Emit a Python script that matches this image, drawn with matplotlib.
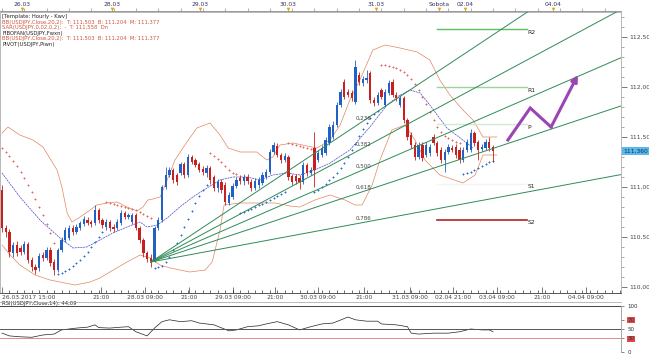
import matplotlib.pyplot as plt
from matplotlib.lines import Line2D
from matplotlib.ticker import MultipleLocator, FuncFormatter

# hourly USD/JPY candles (one per hour, weekend hours skipped)
opens = [110.97, 110.59, 110.55, 110.34, 110.42, 110.39, 110.35, 110.43, 110.27, 110.20,
         110.19, 110.32, 110.29, 110.37, 110.25, 110.17, 110.37, 110.47, 110.49, 110.59,
         110.55, 110.59, 110.63, 110.67, 110.65, 110.64, 110.77, 110.67, 110.60, 110.65,
         110.60, 110.59, 110.64, 110.74, 110.70, 110.65, 110.72, 110.59, 110.47, 110.34,
         110.29, 110.27, 110.59, 110.67, 111.00, 111.12, 111.17, 111.12, 111.14, 111.23,
         111.12, 111.30, 111.27, 111.23, 111.18, 111.14, 111.19, 111.10, 110.99, 111.05,
         111.02, 110.84, 110.90, 111.01, 111.09, 111.06, 111.10, 111.05, 110.99, 111.02,
         111.04, 111.10, 111.15, 111.35, 111.41, 111.32, 111.27, 111.30, 111.11, 111.11,
         111.09, 111.05, 111.22, 111.14, 111.39, 111.27, 111.32, 111.34, 111.44, 111.50,
         111.62, 111.82, 112.05, 111.95, 111.94, 111.85, 112.12, 112.04, 112.07, 112.14,
         111.87, 111.84, 111.97, 111.82, 111.94, 112.05, 111.92, 111.82, 111.89, 111.67,
         111.52, 111.42, 111.30, 111.42, 111.32, 111.34, 111.50, 111.44, 111.37, 111.27,
         111.35, 111.39, 111.40, 111.37, 111.27, 111.37, 111.37, 111.54, 111.45, 111.38,
         111.39, 111.45, 111.40]
closes = [110.59, 110.55, 110.35, 110.42, 110.34, 110.35, 110.43, 110.27, 110.20, 110.17,
          110.31, 110.29, 110.37, 110.24, 110.17, 110.37, 110.47, 110.57, 110.59, 110.55,
          110.60, 110.64, 110.68, 110.64, 110.63, 110.77, 110.67, 110.62, 110.65, 110.59,
          110.58, 110.65, 110.74, 110.70, 110.71, 110.72, 110.59, 110.47, 110.34, 110.28,
          110.26, 110.59, 110.67, 111.00, 111.12, 111.17, 111.07, 111.05, 111.23, 111.12,
          111.30, 111.25, 111.22, 111.17, 111.15, 111.19, 111.07, 110.99, 111.05, 110.97,
          110.85, 110.92, 111.01, 111.07, 111.06, 111.10, 111.06, 110.99, 111.06, 111.07,
          111.12, 111.15, 111.35, 111.42, 111.32, 111.27, 111.31, 111.10, 111.05, 111.06,
          111.05, 111.22, 111.14, 111.17, 111.17, 111.34, 111.39, 111.47, 111.60, 111.62,
          111.82, 111.95, 111.90, 111.92, 111.89, 112.20, 112.05, 112.08, 112.09, 111.87,
          111.84, 111.92, 111.90, 111.95, 112.04, 111.92, 111.89, 111.89, 111.67, 111.50,
          111.42, 111.30, 111.42, 111.29, 111.42, 111.40, 111.44, 111.34, 111.27, 111.35,
          111.40, 111.37, 111.32, 111.27, 111.37, 111.45, 111.54, 111.44, 111.37, 111.40,
          111.45, 111.39, 111.36]
highs = [111.02, 110.62, 110.58, 110.45, 110.46, 110.42, 110.46, 110.45, 110.30, 110.23,
         110.34, 110.35, 110.40, 110.40, 110.28, 110.39, 110.50, 110.60, 110.62, 110.62,
         110.63, 110.66, 110.71, 110.70, 110.67, 110.82, 110.79, 110.69, 110.68, 110.67,
         110.63, 110.68, 110.77, 110.76, 110.74, 110.74, 110.74, 110.61, 110.49, 110.36,
         110.33, 110.61, 110.70, 111.02, 111.20, 111.20, 111.19, 111.14, 111.25, 111.25,
         111.33, 111.32, 111.29, 111.25, 111.21, 111.22, 111.21, 111.12, 111.08, 111.08,
         111.05, 110.95, 111.04, 111.10, 111.12, 111.13, 111.13, 111.08, 111.09, 111.10,
         111.15, 111.18, 111.38, 111.45, 111.44, 111.34, 111.34, 111.32, 111.13, 111.13,
         111.12, 111.25, 111.24, 111.20, 111.55, 111.37, 111.42, 111.50, 111.63, 111.66,
         111.85, 111.98, 112.08, 111.98, 111.97, 112.27, 112.15, 112.11, 112.17, 112.16,
         111.90, 111.95, 111.99, 111.98, 112.07, 112.08, 111.95, 111.92, 111.91, 111.69,
         111.55, 111.45, 111.45, 111.45, 111.45, 111.43, 111.53, 111.46, 111.40, 111.38,
         111.43, 111.42, 111.43, 111.40, 111.40, 111.48, 111.58, 111.56, 111.47, 111.43,
         111.48, 111.50, 111.42]
lows = [110.55, 110.50, 110.30, 110.30, 110.31, 110.32, 110.33, 110.24, 110.16, 110.13,
        110.16, 110.26, 110.27, 110.21, 110.12, 110.15, 110.35, 110.45, 110.47, 110.52,
        110.53, 110.57, 110.61, 110.62, 110.60, 110.62, 110.64, 110.59, 110.57, 110.56,
        110.55, 110.57, 110.62, 110.68, 110.68, 110.63, 110.57, 110.44, 110.30, 110.25,
        110.20, 110.25, 110.57, 110.65, 110.98, 111.10, 111.04, 111.02, 111.12, 111.09,
        111.10, 111.23, 111.20, 111.15, 111.12, 111.10, 111.03, 110.96, 110.95, 110.94,
        110.82, 110.82, 110.88, 110.99, 111.03, 111.02, 111.03, 110.96, 110.97, 110.99,
        111.02, 111.08, 111.13, 111.33, 111.30, 111.24, 111.25, 111.07, 111.02, 111.03,
        110.98, 111.03, 111.11, 111.12, 111.00, 111.25, 111.30, 111.32, 111.42, 111.48,
        111.60, 111.80, 111.88, 111.90, 111.86, 111.83, 112.02, 112.01, 112.04, 111.84,
        111.81, 111.82, 111.88, 111.80, 111.92, 111.90, 111.86, 111.80, 111.64, 111.47,
        111.39, 111.27, 111.28, 111.26, 111.30, 111.31, 111.42, 111.31, 111.24, 111.15,
        111.33, 111.35, 111.29, 111.24, 111.25, 111.35, 111.35, 111.41, 111.27, 111.36,
        111.37, 111.36, 111.25]

# parabolic SAR, one value per candle
sar = [111.39, 111.35, 111.31, 111.26, 111.21, 111.15, 111.09, 111.02, 110.95, 110.88,
       110.80, 110.72, 110.63, 110.54, 110.44,
       110.13, 110.14, 110.16, 110.18, 110.21, 110.24, 110.27, 110.31, 110.35, 110.40,
       110.45, 110.50, 110.55,
       110.85, 110.84, 110.83, 110.82, 110.81, 110.80, 110.79, 110.78, 110.77, 110.75,
       110.73, 110.71, 110.69,
       110.19, 110.20, 110.21, 110.25, 110.30, 110.37, 110.44, 110.52, 110.60, 110.68,
       110.76, 110.84, 110.91, 110.97, 111.02,
       111.34, 111.31, 111.28, 111.25, 111.21, 111.17, 111.14, 111.13,
       110.74, 110.75, 110.77, 110.78, 110.80, 110.82, 110.83, 110.85, 110.87, 110.89,
       110.91, 110.93, 110.95,
       111.44, 111.43, 111.42, 111.41, 111.40, 111.39, 111.38,
       110.95, 110.97, 111.00, 111.03, 111.07, 111.10, 111.14, 111.19, 111.24, 111.30,
       111.37, 111.43, 111.51, 111.58, 111.64, 111.69, 111.73, 111.76,
       112.22, 112.22, 112.21, 112.20, 112.19, 112.17, 112.15, 112.12, 112.08, 112.03,
       111.97, 111.90, 111.83, 111.75, 111.67, 111.60, 111.55, 111.51, 111.49, 111.47,
       111.45, 111.44,
       111.13, 111.14, 111.15, 111.17, 111.19, 111.21, 111.23, 111.25, 111.26]

# Bollinger bands and moving average (sampled at candle index)
bb_up_x = [0, 1.6, 4.8, 8.3, 11, 14.8, 16.1, 17.5, 18.8, 21, 23.7, 25.5, 28.2, 30.9, 33.6,
           36.3, 37.9, 39.2, 40.6, 42.5, 44.4, 46.5, 49.7, 52.4, 55.9, 58.6, 60.8, 64, 68.5,
           71.2, 72.8, 74.7, 78.2, 82, 84.7, 88.2, 90.9, 93.5, 96.2, 99.7, 103, 107, 111.6,
           115, 117.7, 120.4, 123.9, 126.6, 129.3, 133]
bb_up = [111.54, 111.60, 111.52, 111.47, 111.40, 111.17, 111.00, 110.74, 110.65, 110.70,
         110.77, 110.82, 110.84, 110.85, 110.80, 110.76, 110.80, 110.87, 110.88, 110.90,
         111.07, 111.27, 111.45, 111.59, 111.64, 111.52, 111.39, 111.35, 111.35, 111.27,
         111.30, 111.42, 111.44, 111.41, 111.39, 111.47, 111.62, 111.87, 112.07, 112.37,
         112.42, 112.39, 112.35, 112.27, 112.07, 111.92, 111.77, 111.67, 111.50, 111.50]
bb_lo_x = [0, 2.2, 4.8, 8.9, 12.9, 15.6, 19.6, 23.7, 26.3, 29, 33.6, 37.1, 39.8, 42.5, 45.2,
           50.5, 54.6, 56.5, 58.6, 59.7, 64, 68.5, 73.4, 77.4, 80.1, 84.1, 88.2, 92.2, 94.9,
           96.8, 99.5, 101.6, 104.8, 108.3, 111, 113.7, 117.7, 123.9, 127.2, 129.3, 133]
bb_lo = [110.42, 110.32, 110.22, 110.12, 110.07, 110.05, 110.02, 110.05, 110.09, 110.15,
         110.25, 110.32, 110.29, 110.22, 110.19, 110.15, 110.17, 110.25, 110.57, 110.82,
         110.84, 110.84, 110.84, 110.81, 110.80, 110.87, 110.92, 110.87, 110.82, 110.82,
         111.02, 111.27, 111.57, 111.62, 111.47, 111.27, 111.12, 111.04, 111.12, 111.32,
         111.32]
ma_x = [0, 4.8, 10.2, 15.6, 19.1, 22.8, 26.3, 29.8, 33.6, 37.1, 39, 41.7, 44.4, 47.8, 51.3,
        55.1, 58.6, 62, 65.9, 69.4, 72.8, 76.6, 80.1, 84.1, 88.2, 93.5, 98.9, 103.5, 107,
        109.7, 112.4, 115, 119.6, 123.9, 126.6]
ma = [111.14, 110.90, 110.67, 110.49, 110.39, 110.40, 110.47, 110.54, 110.60, 110.65,
      110.60, 110.62, 110.69, 110.80, 110.90, 110.99, 111.07, 111.10, 111.10, 111.07,
      111.12, 111.14, 111.12, 111.17, 111.24, 111.37, 111.60, 111.82, 111.92, 111.97,
      111.94, 111.82, 111.59, 111.47, 111.39]

# RSI(14)
rsi_x = [0, 2, 5, 8, 11, 14, 16, 18, 20, 23, 25, 26, 29, 32, 34, 36, 39, 41, 43, 45,
         48, 51, 53, 57, 61, 63, 66, 69, 71, 74, 77, 80, 83, 86, 89, 93, 95, 97, 98, 101,
         102, 106, 109, 110, 112, 116, 120, 123, 126, 129, 131, 132]
rsi = [41, 35, 33, 32, 37, 39, 48, 50, 52, 54, 59, 53, 52, 54, 55, 44, 35, 52, 66, 70,
       66, 68, 63, 59, 46, 48, 55, 57, 61, 66, 59, 48, 55, 61, 63, 76, 70, 68, 67, 67,
       61, 59, 55, 41, 39, 41, 41, 44, 50, 48, 48, 44]

# Fibonacci fan
fan_start = (40, 110.25)
fan_end = (96, 112.06)
fan_ratios = [0.236, 0.382, 0.5, 0.618, 0.786]

# pivot levels
pivot_names = ['R2', 'R1', 'P', 'S1', 'S2']
pivot_levels = [112.58, 112.00, 111.63, 111.03, 110.67]
pivot_colors = ['#5cbf5c', '#9ad69a', '#d4ead0', '#f4f4f4', '#b52020']
pivot_span = (117, 141)

# forecast arrow
arrow_x = [136, 142, 147.6, 154.8]
arrow_y = [111.47, 111.79, 111.60, 112.12]

price_ticks = [110.0, 110.5, 111.0, 111.5, 112.0, 112.5]
bottom_pos = [0, 26.6, 38.4, 50.3, 62.1, 73.4, 84.9, 97.3, 109.7, 121.2, 133.1, 145.2, 157]
bottom_labels = ['26.03.2017 15:00', '21:00', '28.03 09:00', '21:00', '29.03 09:00', '21:00',
                 '30.03 09:00', '21:00', '31.03 09:00', '02.04 21:00', '03.04 09:00',
                 '21:00', '04.04 09:00']
top_pos = [5.4, 29.6, 53.2, 76.9, 100.5, 117.5, 124.5, 148.1]
top_labels = ['26.03', '28.03', '29.03', '30.03', '31.03', 'Sobota', '02.04', '04.04']

BLUE = '#2160c4'
RED = '#c8201e'
fs = 4.3
W, H = 649, 355
xlim = (-0.54, 166.4)

fig = plt.figure(figsize=(W / 100, H / 100), dpi=100)
ax = fig.add_axes([0, 1 - 293 / H, 621 / W, 281 / H])
ax_top = fig.add_axes([0, 1 - 11 / H, 621 / W, 11 / H])
ax_rsi = fig.add_axes([0, 1 - 352 / H, 621 / W, 46 / H])

# candles
for i in range(len(opens)):
    o, c = opens[i], closes[i]
    col = BLUE if c >= o else RED
    ax.vlines(i, lows[i], highs[i], color=col, lw=0.6, zorder=3)
    ax.bar(i, max(abs(c - o), 0.015), bottom=min(o, c), width=0.62, color=col,
           lw=0, zorder=4)

# indicators
ax.plot(bb_up_x, bb_up, color='#e2865f', lw=0.5, zorder=2)
ax.plot(bb_lo_x, bb_lo, color='#e2865f', lw=0.5, zorder=2)
ax.plot(ma_x, ma, color='#4a4ac8', lw=0.5, ls=(0, (3, 1)), zorder=2)
for i, s in enumerate(sar):
    ax.plot(i, s, marker='+', ms=1.8, mew=0.7,
            color='#e06666' if s > closes[i] else '#2a6fd0', zorder=2)

# fan
for r in fan_ratios:
    level = fan_end[1] - r * (fan_end[1] - fan_start[1])
    slope = (level - fan_start[1]) / (fan_end[0] - fan_start[0])
    x2 = xlim[1] + 5
    ax.plot([fan_start[0], x2], [fan_start[1], fan_start[1] + slope * (x2 - fan_start[0])],
            color='#2e8b57', lw=0.7, zorder=5)
    ax.text(fan_end[0] - 1, level + 0.03, f'{r:.3f}'.replace('.', ','), fontsize=fs - 0.3,
            color='#444444', va='bottom', ha='left', zorder=6)

# pivots
for name, lvl, col in zip(pivot_names, pivot_levels, pivot_colors):
    ax.plot(pivot_span, [lvl, lvl], color=col, lw=1.0 if name != 'S2' else 1.2, zorder=2)
    ax.text(pivot_span[1] + 0.3, lvl - 0.03, name, fontsize=fs, color='#222222',
            va='center', ha='left')

# arrow
ax.plot(arrow_x[:-1], arrow_y[:-1], color='#9b45b5', lw=2.2, solid_joinstyle='miter',
        zorder=6)
ax.annotate('', xy=(arrow_x[-1], arrow_y[-1]), xytext=(arrow_x[-2], arrow_y[-2]),
            arrowprops=dict(arrowstyle='-|>', color='#9b45b5', lw=2.2, mutation_scale=9,
                            shrinkA=0, shrinkB=0), zorder=6)

ax.set_xlim(xlim)
ax.set_ylim(109.94, 112.75)
ax.yaxis.tick_right()
ax.set_yticks(price_ticks)
ax.yaxis.set_minor_locator(MultipleLocator(0.1))
ax.yaxis.set_major_formatter(FuncFormatter(lambda v, p: f'{v:.2f}'.replace('.', ',')))
ax.tick_params(axis='y', which='major', labelsize=fs, length=4, width=0.5, pad=2,
               colors='#444444')
ax.tick_params(axis='y', which='minor', length=2, width=0.4, colors='#666666')
ax.set_xticks(bottom_pos)
ax.set_xticklabels(bottom_labels)
for lab in ax.get_xticklabels()[:1]:
    lab.set_ha('left')
ax.xaxis.set_minor_locator(MultipleLocator(2))
ax.tick_params(axis='x', which='major', labelsize=fs, length=4, width=0.5, pad=1.5,
               direction='in', colors='#444444')
ax.tick_params(axis='x', which='minor', length=2, width=0.4, direction='in')
for sp in ax.spines.values():
    sp.set_color('#b8b8b8')
    sp.set_linewidth(0.7)
ax.spines['bottom'].set_color('#555555')

last = closes[-1]
ax.text(1.004, last, f'{last:.3f}'.replace('.', ','), transform=ax.get_yaxis_transform(),
        fontsize=fs, color='#10305a', va='center', ha='left',
        bbox=dict(fc='#5ab8ec', ec='none', pad=0.8))

legend_lines = [
    ('[Template: Hourly - Kwv]', '#222222'),
    ('BB(USDJPY,Close,20,2):  T: 111,503  B: 111,204  M: 111,377', '#d2543a'),
    ('SAR(USDJPY,0,02,0,2):  -  T: 111,558  Dn', '#d2543a'),
    ('FIBOFAN(USDJPY,Fwxn)', '#222222'),
    ('BB(USDJPY,Close,20,2):  T: 111,503  B: 111,204  M: 111,377', '#d2543a'),
    ('PIVOT(USDJPY,Piwn)', '#222222'),
]
for k, (t, c) in enumerate(legend_lines):
    ax.text(0.004, 0.992 - k * 0.0195, t, transform=ax.transAxes, fontsize=fs - 0.5,
            color=c, va='top', ha='left')

# top time strip
ax_top.set_xlim(xlim)
ax_top.set_ylim(0, 1)
for sp in ['top', 'left', 'right']:
    ax_top.spines[sp].set_visible(False)
ax_top.spines['bottom'].set_color('#888888')
ax_top.spines['bottom'].set_linewidth(0.6)
ax_top.set_yticks([])
ax_top.set_xticks(top_pos)
ax_top.set_xticklabels([])
ax_top.xaxis.set_minor_locator(MultipleLocator(6))
ax_top.tick_params(axis='x', which='both', direction='in', length=2, width=0.4,
                   colors='#777777')
for p, t in zip(top_pos, top_labels):
    ax_top.text(p, 0.62, t, fontsize=fs, color='#333366', ha='center', va='center')
    ax_top.plot(p, 0.2, marker='v', ms=2.6, color='#e0a800', mew=0)

fig.add_artist(Line2D([0, 621 / W], [1 - 302 / H] * 2, color='#b0b0b0', lw=0.6))

# RSI panel
ax_rsi.plot(rsi_x, rsi, color='#222222', lw=0.5)
for lvl, col in [(100, '#444444'), (50, '#555555'), (30, '#e58b8b'), (0, '#444444')]:
    ax_rsi.axhline(lvl, color=col, lw=0.7)
ax_rsi.set_xlim(xlim)
ax_rsi.set_ylim(0, 100)
for sp in ['top', 'left', 'bottom']:
    ax_rsi.spines[sp].set_visible(False)
ax_rsi.spines['right'].set_color('#999999')
ax_rsi.spines['right'].set_linewidth(0.6)
ax_rsi.set_xticks([])
ax_rsi.yaxis.tick_right()
ax_rsi.set_yticks([0, 30, 50, 70, 100])
ax_rsi.tick_params(axis='y', labelsize=fs - 0.3, length=2.5, width=0.4, pad=2,
                   colors='#333333')
for lab in ax_rsi.get_yticklabels():
    if lab.get_text() in ('30', '70'):
        lab.set_bbox(dict(fc='#e04848', ec='none', pad=0.5))
ax_rsi.text(0.004, 1.0, 'RSI(USDJPY,Close,14): 44,09', transform=ax_rsi.transAxes,
            fontsize=fs - 0.5, color='#222222', va='bottom', ha='left')

fig.savefig('out.png', dpi=100)
